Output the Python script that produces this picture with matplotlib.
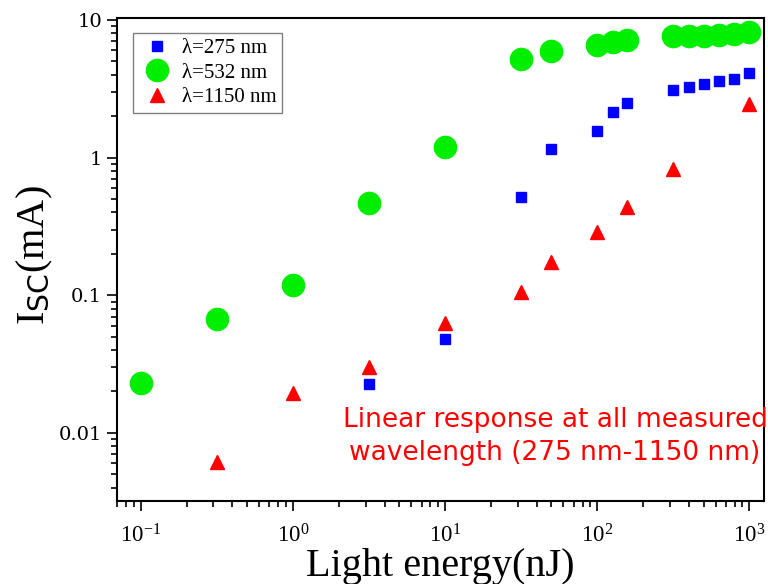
import numpy as np
import matplotlib.pyplot as plt

plt.rcParams['mathtext.fontset'] = 'custom'
plt.rcParams['mathtext.rm'] = 'Liberation Serif'
plt.rcParams['mathtext.sf'] = 'DejaVu Sans'
plt.rcParams['mathtext.it'] = 'Liberation Serif:italic'

### 0. Data
x_275 = [3.16, 10, 31.6, 50, 100, 126, 158, 316, 398, 501, 631, 794, 1000]
y_275 = [0.0227, 0.048, 0.52, 1.16, 1.55, 2.16, 2.51, 3.07, 3.23, 3.4, 3.57, 3.69, 4.08]

x_532 = [0.1, 0.316, 1, 3.16, 10, 31.6, 50, 100, 126, 158, 316, 398, 501, 631, 794, 1000]
y_532 = [0.0231, 0.067, 0.119, 0.47, 1.2, 5.2, 5.96, 6.58, 6.9, 7.1, 7.65, 7.65, 7.7, 7.8, 7.9, 8.2]

x_1150 = [0.316, 1, 3.16, 10, 31.6, 50, 100, 158, 316, 1000]
y_1150 = [0.0062, 0.0195, 0.030, 0.063, 0.105, 0.174, 0.287, 0.436, 0.83, 2.43]

labels = ['λ=275 nm', 'λ=532 nm', 'λ=1150 nm']

### 1. Plot
fig = plt.figure(figsize=(7.68, 5.84), dpi=100)
ax = fig.add_axes([0.152, 0.142, 0.843, 0.827])

ax.plot(x_275, y_275, 's', color='blue', markersize=7, label=labels[0])
ax.plot(x_532, y_532, 'o', color='#00ee00', markersize=16, label=labels[1])
ax.plot(x_1150, y_1150, '^', color='red', markersize=9.5, label=labels[2])

ax.set_xscale('log')
ax.set_yscale('log')
ax.set_xlim(0.0695, 1250)
ax.set_ylim(0.0032, 10.3)

ax.set_yticks([0.01, 0.1, 1, 10])
ax.set_yticklabels(['0.01', '0.1', '1', '10'], family='DejaVu Serif', fontsize=14)
for t in ax.get_xticklabels():
    t.set_family('Liberation Serif')
    t.set_fontsize(16.5)

ax.tick_params(which='both', direction='out', top=False, right=False, width=1.2)
ax.tick_params(which='major', length=7)
ax.tick_params(which='minor', length=4)
ax.tick_params(axis='x', which='major', pad=10)
for s in ax.spines.values():
    s.set_linewidth(1.5)

ax.set_xlabel('Light energy(nJ)', family='Liberation Serif', fontsize=29, labelpad=0)
ax.set_ylabel(r'$\mathrm{I}_{\mathsf{SC}}$(mA)', family='Liberation Serif', fontsize=29)
ax.yaxis.set_label_coords(-0.095, 0.51)

ax.text(0.677, 0.133, 'Linear response at all measured\nwavelength (275 nm-1150 nm)',
        transform=ax.transAxes, color='red', fontsize=19, ha='center', va='center',
        linespacing=1.35)

leg = ax.legend(loc='upper left', bbox_to_anchor=(0.025, 0.969), borderaxespad=0,
                prop={'family': 'Liberation Serif', 'size': 15},
                fancybox=False, edgecolor='gray', framealpha=1, handletextpad=0.3,
                handlelength=1.8, borderpad=0.25, labelspacing=0.25)
leg.get_frame().set_linewidth(1.0)

plt.savefig('out.png', dpi=100)
